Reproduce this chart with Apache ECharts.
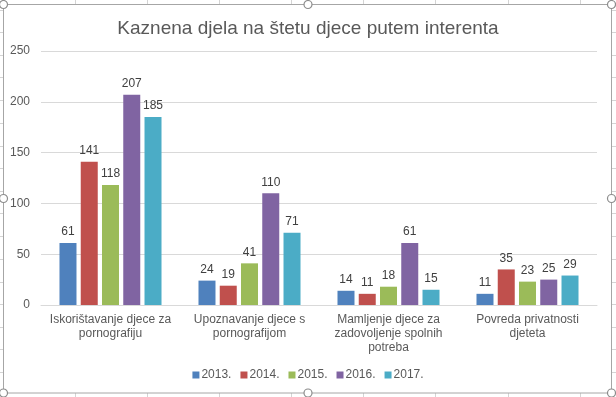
<!DOCTYPE html>
<html>
<head>
<meta charset="utf-8">
<script src="https://cdn.jsdelivr.net/npm/echarts@6/dist/echarts.min.js"></script>
<style>
html,body{margin:0;padding:0;background:#fff;}
#chart{width:616px;height:397px;}
</style>
</head>
<body>
<div id="chart"></div>
<script>
var titleText = 'Kaznena djela na štetu djece putem interenta';
var categories = [
  'Iskorištavanje djece za\npornografiju',
  'Upoznavanje djece s\npornografijom',
  'Mamljenje djece za\nzadovoljenje spolnih\npotreba',
  'Povreda privatnosti\ndjeteta'
];
var seriesNames = ['2013.', '2014.', '2015.', '2016.', '2017.'];
var v2013 = [61, 24, 14, 11];
var v2014 = [141, 19, 11, 35];
var v2015 = [118, 41, 18, 23];
var v2016 = [207, 110, 61, 25];
var v2017 = [185, 71, 15, 29];
var yTicks = [0, 50, 100, 150, 200, 250];

var seriesValues = [v2013, v2014, v2015, v2016, v2017];
var colors = ['#4f81bd', '#c0504d', '#9bbb59', '#8064a2', '#4bacc6'];
var FONT = 'Liberation Sans';

var chart = echarts.init(document.getElementById('chart'), null, {renderer: 'canvas'});

// decorative: spreadsheet cell lines outside the chart frame, frame and handles
var deco = [];
var lineColor = '#d4d4d4';
[75, 147, 219, 291, 363, 435, 508, 580].forEach(function (x) {
  deco.push({type: 'line', shape: {x1: x + 0.5, y1: 0, x2: x + 0.5, y2: 4}, style: {stroke: lineColor, lineWidth: 1}, z: 1});
  deco.push({type: 'line', shape: {x1: x + 0.5, y1: 393, x2: x + 0.5, y2: 397}, style: {stroke: lineColor, lineWidth: 1}, z: 1});
});
[10, 32, 55, 77, 100, 123, 146, 168, 191, 213, 236, 259, 282, 304, 327, 349, 372].forEach(function (y) {
  deco.push({type: 'line', shape: {x1: 0, y1: y + 0.5, x2: 3, y2: y + 0.5}, style: {stroke: lineColor, lineWidth: 1}, z: 1});
  deco.push({type: 'line', shape: {x1: 612, y1: y + 0.5, x2: 616, y2: y + 0.5}, style: {stroke: lineColor, lineWidth: 1}, z: 1});
});
deco.push({type: 'rect', shape: {x: 3.5, y: 4.5, width: 608, height: 388.5}, style: {fill: 'none', stroke: '#a6a6a6', lineWidth: 1}, z: 2});
[[3.5, 4.5], [308, 4.5], [611.5, 4.5], [3.5, 198.5], [611.5, 198.5], [3.5, 393], [308, 393], [611.5, 393]].forEach(function (p) {
  deco.push({type: 'circle', shape: {cx: p[0], cy: p[1], r: 4}, style: {fill: '#fff', stroke: '#8c8c8c', lineWidth: 1.2}, z: 3});
});

var series = seriesNames.map(function (name, i) {
  return {
    name: name,
    type: 'bar',
    data: seriesValues[i],
    itemStyle: {color: colors[i]},
    barGap: '25%',
    barCategoryGap: '26.6%',
    label: {
      show: true,
      position: 'top',
      distance: 5,
      color: '#404040',
      fontFamily: FONT,
      fontSize: 12
    }
  };
});

chart.setOption({
  backgroundColor: '#ffffff',
  animation: false,
  title: {
    text: titleText,
    left: 'center',
    top: 14,
    textStyle: {color: '#595959', fontFamily: FONT, fontSize: 19, fontWeight: 'normal'}
  },
  legend: {
    data: seriesNames,
    bottom: 11,
    left: 'center',
    itemWidth: 7,
    itemHeight: 7,
    itemGap: 9,
    icon: 'rect',
    textStyle: {color: '#595959', fontFamily: FONT, fontSize: 12, padding: [0, 0, 0, -3]}
  },
  grid: {left: 41, right: 19, top: 51, bottom: 92, containLabel: false},
  xAxis: {
    type: 'category',
    data: categories,
    axisLine: {lineStyle: {color: '#d9d9d9'}},
    axisTick: {show: false},
    axisLabel: {color: '#595959', fontFamily: FONT, fontSize: 12, lineHeight: 14, margin: 8, interval: 0}
  },
  yAxis: {
    type: 'value',
    min: yTicks[0],
    max: yTicks[yTicks.length - 1],
    interval: yTicks[1] - yTicks[0],
    axisLine: {show: false},
    axisTick: {show: false},
    splitLine: {lineStyle: {color: '#d9d9d9'}},
    axisLabel: {color: '#595959', fontFamily: FONT, fontSize: 12, margin: 11}
  },
  series: series,
  graphic: deco
});
</script>
</body>
</html>
